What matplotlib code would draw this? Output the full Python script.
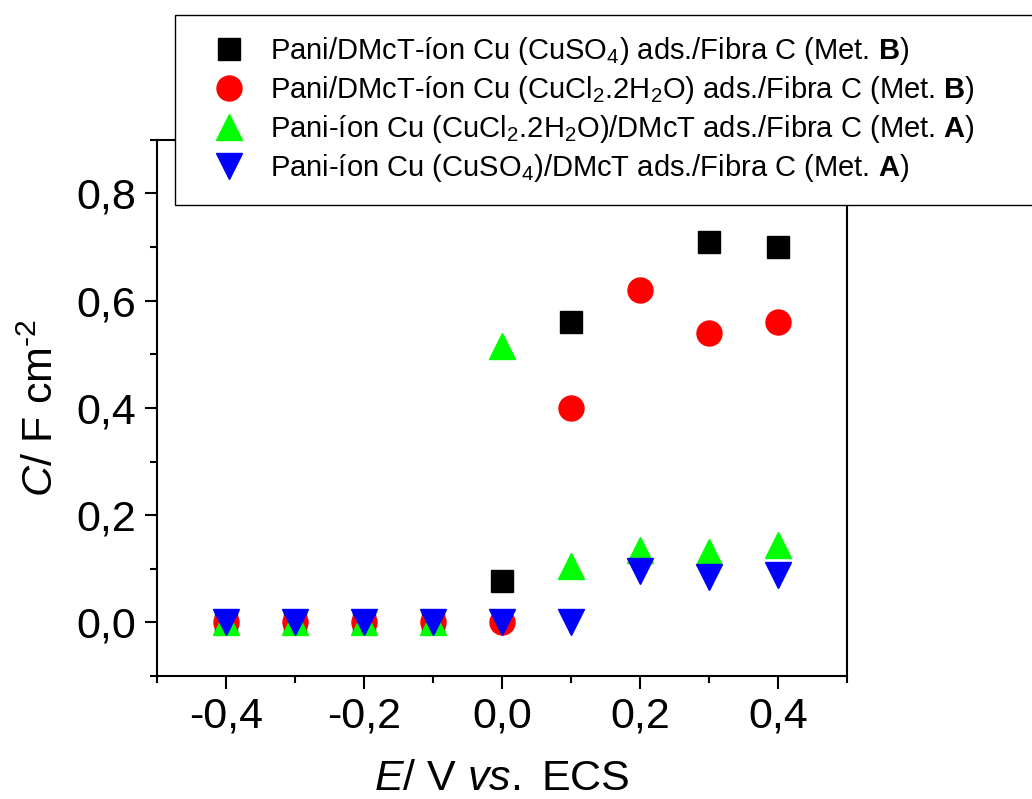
import matplotlib
matplotlib.use("Agg")
import matplotlib.pyplot as plt
from matplotlib.ticker import MultipleLocator, FuncFormatter

plt.rcParams['font.family'] = ['Liberation Sans', 'DejaVu Sans']
plt.rcParams['mathtext.fontset'] = 'custom'
plt.rcParams['mathtext.rm'] = 'Liberation Sans'
plt.rcParams['mathtext.it'] = 'Liberation Sans:italic'
plt.rcParams['mathtext.bf'] = 'Liberation Sans:bold'
plt.rcParams['axes.unicode_minus'] = False

# data
E_black = [-0.4, -0.3, -0.2, -0.1, 0.0, 0.1, 0.3, 0.4]
C_black = [0.0, 0.0, 0.0, 0.0, 0.077, 0.56, 0.71, 0.70]

E_red = [-0.4, -0.3, -0.2, -0.1, 0.0, 0.1, 0.2, 0.3, 0.4]
C_red = [0.0, 0.0, 0.0, 0.0, 0.0, 0.40, 0.62, 0.54, 0.56]

E_green = [-0.4, -0.3, -0.2, -0.1, 0.0, 0.1, 0.2, 0.3, 0.4]
C_green = [0.0, 0.0, 0.0, 0.0, 0.515, 0.105, 0.135, 0.132, 0.145]

E_blue = [-0.4, -0.3, -0.2, -0.1, 0.0, 0.1, 0.2, 0.3, 0.4]
C_blue = [0.0, 0.0, 0.0, 0.0, 0.0, 0.0, 0.095, 0.085, 0.088]

labels = [
    r'Pani/DMcT-íon Cu (CuSO$_4$) ads./Fibra C (Met. $\mathbf{B}$)',
    r'Pani/DMcT-íon Cu (CuCl$_2$.2H$_2$O) ads./Fibra C (Met. $\mathbf{B}$)',
    r'Pani-íon Cu (CuCl$_2$.2H$_2$O)/DMcT ads./Fibra C (Met. $\mathbf{A}$)',
    r'Pani-íon Cu (CuSO$_4$)/DMcT ads./Fibra C (Met. $\mathbf{A}$)',
]

fig = plt.figure(figsize=(10.32, 7.99), dpi=100)
ax = fig.add_axes([0.152, 0.154, 0.669, 0.671])

ax.plot(E_black, C_black, 's', color='black', ms=16.5, ls='none', label=labels[0])
ax.plot(E_red, C_red, 'o', color='red', ms=18, ls='none', label=labels[1])
ax.plot(E_green, C_green, '^', color='#00ff00', ms=19, ls='none', label=labels[2])
ax.plot(E_blue, C_blue, 'v', color='blue', ms=19, ls='none', label=labels[3])

ax.set_xlim(-0.5, 0.5)
ax.set_ylim(-0.1, 0.9)
ax.xaxis.set_major_locator(MultipleLocator(0.2))
ax.xaxis.set_minor_locator(MultipleLocator(0.1))
ax.yaxis.set_major_locator(MultipleLocator(0.2))
ax.yaxis.set_minor_locator(MultipleLocator(0.1))
fmt = FuncFormatter(lambda v, p: ('%.1f' % v).replace('.', ',').replace('-0,0', '0,0'))
ax.xaxis.set_major_formatter(fmt)
ax.yaxis.set_major_formatter(fmt)

for s in ax.spines.values():
    s.set_linewidth(1.5)
ax.tick_params(which='major', direction='out', length=9, width=1.5, labelsize=31, pad=6)
ax.tick_params(which='minor', direction='out', length=5, width=1.5)

ax.set_xlabel(r'$\mathit{E}$/ V $\mathit{vs.}$ ECS', fontsize=31, labelpad=16)
ax.set_ylabel(r'$\mathit{C}$/ F cm$^{\text{-}2}$', fontsize=31, labelpad=10)

# legend box runs past the right edge of the figure, as in the original
leg = fig.legend(loc='upper left',
                 bbox_to_anchor=(175 / 1032, 1 - 200 / 799, 900 / 1032, 185 / 799),
                 mode='expand', borderaxespad=0,
                 fontsize=21, frameon=True, fancybox=False, edgecolor='black',
                 framealpha=1, handletextpad=0.25, labelspacing=0.24,
                 borderpad=0.7, handlelength=2.3, markerscale=1.0)
leg.get_frame().set_linewidth(1.0)

fig.savefig('out.png', dpi=100)
